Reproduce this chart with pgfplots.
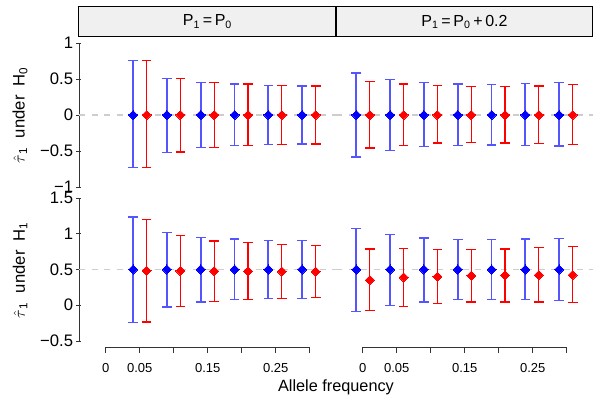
\documentclass[border=0pt]{standalone}
\usepackage{fontspec}
\setmainfont{Liberation Sans}
\usepackage{pgfplots}
\usepackage{pgfplotstable}
\pgfplotsset{compat=1.18}

\definecolor{bbar}{RGB}{85,85,255}
\definecolor{stripfill}{RGB}{240,240,240}
\definecolor{dashgray}{RGB}{205,205,205}

% x, estimate, upper, lower
\pgfplotstableread{
x y hi lo
0.04 0 0.754 -0.731
0.09 0 0.510 -0.518
0.14 0 0.450 -0.453
0.19 0 0.431 -0.425
0.24 0 0.412 -0.412
0.29 0 0.403 -0.403
}\TLblue
\pgfplotstableread{
x y hi lo
0.06 0 0.754 -0.730
0.11 0 0.508 -0.514
0.16 0 0.450 -0.453
0.21 0 0.431 -0.422
0.26 0 0.412 -0.405
0.31 0 0.403 -0.403
}\TLred
\pgfplotstableread{
x y hi lo
-0.01 0 0.583 -0.583
0.04 0 0.495 -0.490
0.09 0 0.454 -0.435
0.14 0 0.430 -0.421
0.19 0 0.426 -0.417
0.24 0 0.435 -0.421
0.29 0 0.449 -0.430
}\TRblue
\pgfplotstableread{
x y hi lo
0.01 0 0.463 -0.458
0.06 0 0.430 -0.426
0.11 0 0.407 -0.389
0.16 0 0.393 -0.384
0.21 0 0.398 -0.389
0.26 0 0.403 -0.400
0.31 0 0.426 -0.412
}\TRred
\pgfplotstableread{
x y hi lo
0.04 0.5 1.237 -0.243
0.09 0.5 1.020 -0.024
0.14 0.5 0.944 0.046
0.19 0.5 0.926 0.079
0.24 0.5 0.907 0.097
0.29 0.5 0.907 0.097
}\BLblue
\pgfplotstableread{
x y hi lo
0.06 0.483 1.196 -0.233
0.11 0.480 0.978 -0.019
0.16 0.478 0.898 0.051
0.21 0.476 0.875 0.083
0.26 0.472 0.851 0.097
0.31 0.472 0.837 0.107
}\BLred
\pgfplotstableread{
x y hi lo
-0.01 0.5 1.075 -0.084
0.04 0.5 0.990 0.000
0.09 0.5 0.940 0.046
0.14 0.5 0.921 0.079
0.19 0.5 0.921 0.083
0.24 0.5 0.926 0.079
0.29 0.5 0.935 0.065
}\BRblue
\pgfplotstableread{
x y hi lo
0.01 0.353 0.786 -0.075
0.06 0.391 0.796 -0.014
0.11 0.400 0.782 0.023
0.16 0.413 0.782 0.046
0.21 0.419 0.786 0.046
0.26 0.423 0.805 0.046
0.31 0.423 0.819 0.037
}\BRred

\pgfplotsset{
  panel/.style={
    scale only axis, width=192.75pt,
    xmin=-0.04, xmax=0.34,
    clip=false,
    axis line style={-, line width=0.6pt, black!80},
    every tick/.style={black!80, line width=0.6pt},
    tick align=outside,
    major tick length=3.75pt,
    yticklabel style={font=\fontsize{12.5}{13}\selectfont, xshift=1pt},
  },
  bluebars/.style={only marks, mark=none,
    error bars/.cd, y dir=both, y explicit, error mark=none,
    error bar style={bbar, line width=1.4pt}},
  redbars/.style={only marks, mark=none,
    error bars/.cd, y dir=both, y explicit, error mark=none,
    error bar style={red, line width=0.9pt}},
  bluecap/.style={only marks, mark=-, mark size=3.6pt, mark options={bbar, line width=1.1pt}},
  redcap/.style={only marks, mark=-, mark size=3.6pt, mark options={red, line width=0.9pt}},
  bluepts/.style={only marks, mark=square*, mark size=2.4pt,
    mark options={rotate=45, fill=blue, draw=blue, line width=0pt}},
  redpts/.style={only marks, mark=square*, mark size=2.4pt,
    mark options={rotate=45, fill=red, draw=red, line width=0pt}},
  zeroline/.style={dashgray, line width=1.1pt, dash pattern=on 4.5pt off 5pt},
  xaxisonly/.style={
    scale only axis, width=153pt, height=10pt,
    xmin=0, xmax=0.3, ymin=0, ymax=1,
    axis x line=bottom, axis y line=none,
    x axis line style={-, line width=0.6pt, black!80},
    every tick/.style={black!80, line width=0.6pt},
    tick align=outside, major tick length=4.5pt,
    xtick={0,0.05,0.1,0.15,0.2,0.25,0.3},
    xticklabels={0,0.05,,0.15,,0.25,},
    xticklabel style={font=\fontsize{9.75}{10}\selectfont, yshift=-4pt},
  },
}

\newcommand{\series}[2]{%
  \addplot[#1bars] table[x=x, y=y, y error plus expr=\thisrow{hi}-\thisrow{y}, y error minus expr=\thisrow{y}-\thisrow{lo}] {#2};
  \addplot[#1cap] table[x=x, y=hi] {#2};
  \addplot[#1cap] table[x=x, y=lo] {#2};
  \addplot[#1pts] table[x=x, y=y] {#2};
}

\begin{document}
\begin{tikzpicture}
\useasboundingbox (0,0) rectangle (450pt,300pt);

% strip
\draw[fill=stripfill, line width=0.8pt] (58.7pt,272.5pt) rectangle (444.5pt,295pt);
\draw[line width=0.8pt] (252pt,272.5pt) -- (252pt,295pt);
\node[font=\fontsize{12}{12}\selectfont] at (155.6pt,283.7pt) {P\textsubscript{1}\,=\,P\textsubscript{0}};
\node[font=\fontsize{12}{12}\selectfont] at (348.4pt,283.7pt) {P\textsubscript{1}\,=\,P\textsubscript{0}\,+\,0.2};

% top-left
\begin{axis}[panel, at={(59.25pt,159.75pt)}, anchor=south west, height=108pt,
  ymin=-1, ymax=1, axis y line=left, axis x line=none,
  y axis line style={-}, every outer y axis line/.append style={-},
  ytick={-1,-0.5,0,0.5,1}, yticklabels={−1,−0.5,0,0.5,1}]
\addplot[zeroline] coordinates {(-0.04,0) (0.34,0)};
\series{blue}{\TLblue}
\series{red}{\TLred}
\end{axis}

% top-right
\begin{axis}[panel, at={(252pt,159.75pt)}, anchor=south west, height=108pt,
  ymin=-1, ymax=1, hide axis]
\addplot[zeroline] coordinates {(-0.04,0) (0.34,0)};
\series{blue}{\TRblue}
\series{red}{\TRred}
\end{axis}

% bottom-left
\begin{axis}[panel, at={(59.25pt,44.25pt)}, anchor=south west, height=107.25pt,
  ymin=-0.5, ymax=1.5, axis y line=left, axis x line=none,
  y axis line style={-}, every outer y axis line/.append style={-},
  ytick={-0.5,0,0.5,1,1.5}, yticklabels={−0.5,0,0.5,1,1.5}]
\addplot[zeroline] coordinates {(-0.04,0.5) (0.34,0.5)};
\series{blue}{\BLblue}
\series{red}{\BLred}
\end{axis}

% bottom-right
\begin{axis}[panel, at={(252pt,44.25pt)}, anchor=south west, height=107.25pt,
  ymin=-0.5, ymax=1.5, hide axis]
\addplot[zeroline] coordinates {(-0.04,0.5) (0.34,0.5)};
\series{blue}{\BRblue}
\series{red}{\BRred}
\end{axis}

% x axes
\begin{axis}[xaxisonly, at={(79.275pt,39.75pt)}, anchor=south west]
\end{axis}
\begin{axis}[xaxisonly, at={(272.025pt,39.75pt)}, anchor=south west]
\end{axis}

% labels
\node[font=\fontsize{12.2}{13}\selectfont] at (252pt,9.5pt) {Allele frequency};
\node[rotate=90, font=\fontsize{12.5}{13}\selectfont] at (15pt,213.75pt) {$\hat{\tau}$\textsubscript{1}\ \ under\ \ H\textsubscript{0}};
\node[rotate=90, font=\fontsize{12.5}{13}\selectfont] at (15pt,97.5pt) {$\hat{\tau}$\textsubscript{1}\ \ under\ \ H\textsubscript{1}};
\end{tikzpicture}
\end{document}
